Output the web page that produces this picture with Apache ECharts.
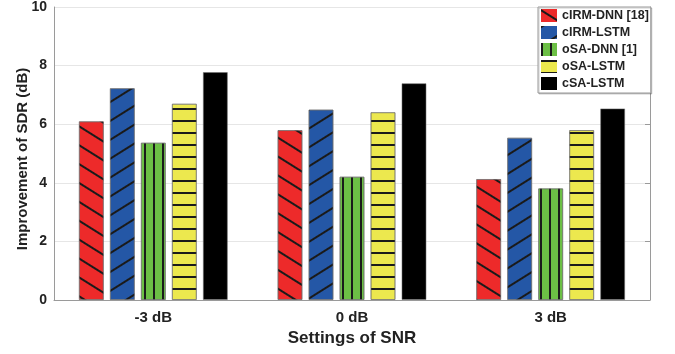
<!DOCTYPE html>
<html>
<head>
<meta charset="utf-8">
<script src="https://cdn.jsdelivr.net/npm/echarts@6/dist/echarts.min.js"></script>
<style>html,body{margin:0;padding:0;background:#fff;}#c{width:675px;height:354px;}</style>
</head>
<body>
<div id="c"></div>
<script>
const categories = ['-3 dB', '0 dB', '3 dB'];
const seriesNames = ['cIRM-DNN [18]', 'cIRM-LSTM', 'oSA-DNN [1]', 'oSA-LSTM', 'cSA-LSTM'];
const cirmDnn = [6.1, 5.8, 4.13];
const cirmLstm = [7.23, 6.5, 5.54];
const osaDnn = [5.37, 4.21, 3.81];
const osaLstm = [6.7, 6.41, 5.8];
const csaLstm = [7.78, 7.4, 6.54];
const yTicks = [0, 2, 4, 6, 8, 10];

const FONT = 'Liberation Sans, Arial, sans-serif';
const colors = ['#ED2A2A', '#2457A6', '#6CBF45', '#ECE84E', '#000000'];
const hatch = '#1a1a1a';
const decals = [
  {symbol: 'rect', symbolSize: 1, color: hatch, dashArrayX: [1, 0], dashArrayY: [1.5, 13.8], rotation: 0.56},
  {symbol: 'rect', symbolSize: 1, color: hatch, dashArrayX: [1, 0], dashArrayY: [1.5, 13.8], rotation: -0.56},
  {symbol: 'rect', symbolSize: 1, color: hatch, dashArrayX: [1.5, 7], dashArrayY: [1, 0]},
  {symbol: 'rect', symbolSize: 1, color: hatch, dashArrayX: [1, 0], dashArrayY: [1.5, 9.8]},
  null
];
const values = [cirmDnn, cirmLstm, osaDnn, osaLstm, csaLstm];

const series = values.map((v, i) => {
  const it = {color: colors[i], borderColor: 'rgba(110,110,110,0.55)', borderWidth: 1};
  if (decals[i]) it.decal = decals[i];
  return {
    name: seriesNames[i], type: 'bar', data: v,
    barWidth: 25, barGap: '24%',
    itemStyle: it,
    emphasis: {disabled: true}
  };
});

const chart = echarts.init(document.getElementById('c'), null, {renderer: 'canvas'});
chart.setOption({
  animation: false,
  aria: {enabled: false},
  grid: {left: 54, right: 25, top: 7, bottom: 54, containLabel: false, outerBoundsMode: 'none'},
  legend: {
    orient: 'vertical', left: 538, top: 7,
    padding: [2, 2, 3, 3],
    itemWidth: 16, itemHeight: 13, itemGap: 4,
    icon: 'rect',
    backgroundColor: '#fff',
    borderColor: '#999', borderWidth: 1,
    shadowColor: 'rgba(0,0,0,0.2)', shadowBlur: 0, shadowOffsetX: 1, shadowOffsetY: 1,
    textStyle: {fontFamily: FONT, fontWeight: 'bold', fontSize: 12.5, color: '#222', lineHeight: 13},
    data: seriesNames.map((n, i) => ({name: n, itemStyle: decals[i] ? {decal: decals[i], borderWidth: 0} : {borderWidth: 0}}))
  },
  xAxis: {
    type: 'category', data: categories,
    axisLine: {lineStyle: {color: '#9a9a9a', width: 1}},
    axisTick: {show: false},
    axisLabel: {fontFamily: FONT, fontWeight: 'bold', fontSize: 15, color: '#222', margin: 10},
    name: 'Settings of SNR', nameLocation: 'middle', nameGap: 30, nameMoveOverlap: false,
    nameTextStyle: {fontFamily: FONT, fontWeight: 'bold', fontSize: 17, color: '#222'}
  },
  yAxis: [{
    type: 'value', min: yTicks[0], max: yTicks[yTicks.length - 1], interval: 2,
    axisLine: {show: true, lineStyle: {color: '#9a9a9a'}},
    axisTick: {show: false},
    splitLine: {lineStyle: {color: '#e6e6e6'}},
    axisLabel: {fontFamily: FONT, fontWeight: 'bold', fontSize: 14, color: '#222', margin: 7},
    name: 'Improvement of SDR (dB)', nameLocation: 'middle', nameGap: 24, nameMoveOverlap: false,
    nameTextStyle: {fontFamily: FONT, fontWeight: 'bold', fontSize: 15, color: '#222', padding: [0, 11, 0, 0]}
  }, {
    type: 'value', position: 'right', min: 0, max: 10, interval: 2,
    axisLine: {show: true, lineStyle: {color: '#9a9a9a'}},
    axisTick: {show: true, inside: true, length: 5, lineStyle: {color: '#9a9a9a'}},
    axisLabel: {show: false},
    splitLine: {show: false}
  }],
  series: series
});
</script>
</body>
</html>
